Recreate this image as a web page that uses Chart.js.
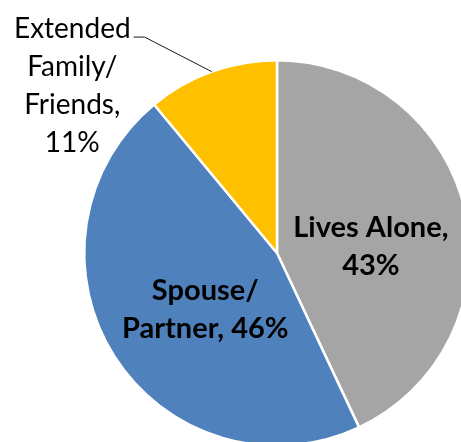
<!DOCTYPE html>
<html>
<head>
<meta charset="utf-8">
<script src="https://cdn.jsdelivr.net/npm/chart.js@4"></script>
<style>
  html, body { margin: 0; padding: 0; background: #fff; overflow: hidden; }
  #wrap { width: 461px; height: 442px; overflow: hidden; position: relative; }
  canvas { position: absolute; left: 0; top: 0; }
</style>
</head>
<body>
<div id="wrap"><canvas id="pie" width="554" height="506"></canvas></div>
<script>
// data
const categories = ['Lives Alone', 'Spouse/Partner', 'Extended Family/Friends'];
const shares = [43, 46, 11];
const colors = ['#A5A5A5', '#4F81BD', '#FFC000'];
// label text, split into lines (the percent goes on the last line)
const labelParts = [['Lives Alone,', ''], ['Spouse/', 'Partner, '], ['Extended', 'Family/', 'Friends,', '']];

// where each label's first baseline sits, in units of the radius from the centre
const labelAnchor = [
  { dx: 0.487, dy: -0.085, bold: true, size: 29 },
  { dx: -0.372, dy: 0.245, bold: true, size: 29 },
  { dx: -1.062, dy: -1.115, bold: false, size: 28, leader: true }
];

const pieLabels = {
  id: 'pieLabels',
  afterDatasetsDraw(chart) {
    const ctx = chart.ctx;
    const arcs = chart.getDatasetMeta(0).data;
    arcs.forEach((arc, i) => {
      const p = arc.getProps(['x', 'y', 'outerRadius', 'startAngle', 'endAngle'], true);
      const a = labelAnchor[i];
      const r = p.outerRadius;
      const lines = labelParts[i].slice();
      lines[lines.length - 1] += shares[i] + '%';
      const tx = p.x + a.dx * r;
      const ty = p.y + a.dy * r;

      ctx.save();
      ctx.fillStyle = '#000';
      ctx.textAlign = 'center';
      ctx.textBaseline = 'alphabetic';
      ctx.font = (a.bold ? 'bold ' : '') + a.size + 'px Lato';
      lines.forEach((t, k) => ctx.fillText(t, tx, ty + k * 38));

      if (a.leader) {
        // leader line from the text to the middle of the slice edge
        const mid = (p.startAngle + p.endAngle) / 2;
        const ex = p.x + Math.cos(mid) * r;
        const ey = p.y + Math.sin(mid) * r;
        const w = ctx.measureText(lines[0]).width;
        const sx = tx + w / 2 + 3;
        const ly = ty - 1;
        ctx.strokeStyle = '#1a1a1a';
        ctx.lineWidth = 1;
        ctx.beginPath();
        ctx.moveTo(sx, ly);
        ctx.lineTo(sx + 11, ly);
        ctx.lineTo(ex, ey);
        ctx.stroke();
      }
      ctx.restore();
    });
  }
};

new Chart(document.getElementById('pie'), {
  type: 'pie',
  data: {
    labels: categories,
    datasets: [{
      data: shares,
      backgroundColor: colors,
      borderColor: '#fff',
      borderWidth: 2.5
    }]
  },
  options: {
    responsive: false,
    animation: false,
    layout: { padding: { left: 83, right: 83, top: 59, bottom: 59 } },
    plugins: {
      legend: { display: false },
      tooltip: { enabled: false }
    }
  },
  plugins: [pieLabels]
});
</script>
</body>
</html>
